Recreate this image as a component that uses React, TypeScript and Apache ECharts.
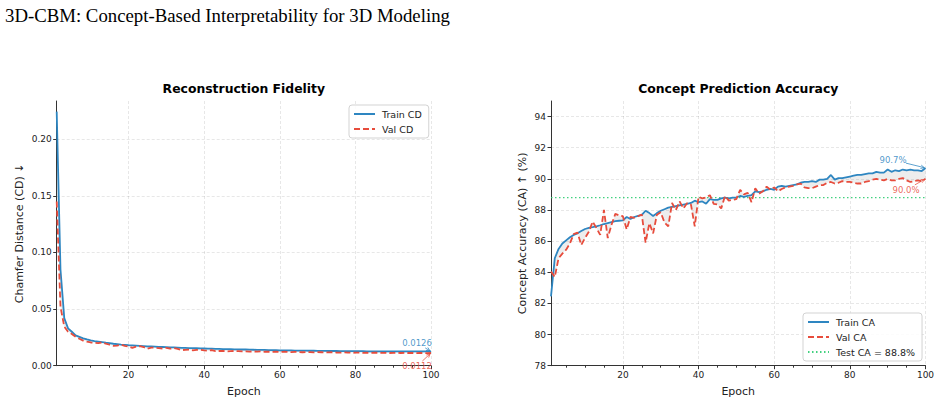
import React, { useEffect, useRef } from "react";
import * as echarts from "echarts";

// Epoch index (1..100) shared by both panels
const EPOCHS: number[] = Array.from({ length: 100 }, (_, i) => i + 1);

// Chamfer distance per epoch
const TRAIN_CD: number[] = [
  0.2244, 0.085, 0.042, 0.033, 0.03, 0.0268, 0.0255, 0.0242, 0.0232, 0.0224,
  0.0218, 0.0213, 0.0208, 0.0203, 0.0199, 0.0194, 0.019, 0.0186, 0.0184, 0.0181,
  0.0179, 0.0177, 0.0175, 0.0173, 0.0171, 0.017, 0.0168, 0.0166, 0.0165, 0.0164,
  0.0162, 0.0161, 0.016, 0.0158, 0.0157, 0.0156, 0.0155, 0.0154, 0.0153, 0.0152,
  0.0151, 0.015, 0.0149, 0.0148, 0.0147, 0.0147, 0.0146, 0.0145, 0.0144, 0.0143,
  0.0143, 0.0142, 0.0141, 0.014, 0.014, 0.0139, 0.0138, 0.0138, 0.0137, 0.0136,
  0.0136, 0.0135, 0.0135, 0.0134, 0.0134, 0.0133, 0.0133, 0.0132, 0.0132, 0.0131,
  0.0131, 0.0131, 0.013, 0.013, 0.013, 0.0129, 0.0129, 0.0129, 0.0128, 0.0128,
  0.0128, 0.0128, 0.0127, 0.0127, 0.0127, 0.0127, 0.0127, 0.0126, 0.0126, 0.0126,
  0.0126, 0.0126, 0.0126, 0.0126, 0.0126, 0.0126, 0.0126, 0.0126, 0.0126, 0.0126,
];
const VAL_CD: number[] = [
  0.145, 0.052, 0.0345, 0.03, 0.028, 0.0255, 0.0238, 0.0222, 0.0212, 0.0205,
  0.0203, 0.02, 0.0206, 0.0195, 0.0185, 0.0176, 0.0178, 0.0186, 0.0175, 0.017,
  0.0158, 0.0168, 0.0172, 0.0165, 0.015, 0.016, 0.0158, 0.0155, 0.0152, 0.0158,
  0.015, 0.0155, 0.0148, 0.0138, 0.014, 0.0142, 0.0136, 0.0139, 0.014, 0.0135,
  0.0132, 0.0138, 0.0128, 0.013, 0.0131, 0.0127, 0.0129, 0.013, 0.0128, 0.0126,
  0.0127, 0.0125, 0.0126, 0.0124, 0.0126, 0.0123, 0.0124, 0.0122, 0.0124, 0.0121,
  0.0123, 0.0122, 0.012, 0.0122, 0.0121, 0.0119, 0.0121, 0.012, 0.0118, 0.012,
  0.0119, 0.0118, 0.0117, 0.0119, 0.0116, 0.0115, 0.0117, 0.0116, 0.0114, 0.0115,
  0.0116, 0.0114, 0.0115, 0.0113, 0.0115, 0.0114, 0.0113, 0.0114, 0.0112, 0.0113,
  0.0114, 0.0112, 0.0113, 0.0112, 0.0113, 0.0111, 0.0112, 0.0112, 0.0111, 0.0112,
];

// Concept accuracy (%) per epoch
const TRAIN_CA: number[] = [
  82.45, 84.9, 85.5, 85.85, 86.05, 86.25, 86.4, 86.5, 86.65, 86.78,
  86.85, 86.9, 86.95, 87.02, 87.1, 87.16, 87.22, 87.28, 87.31, 87.33,
  87.55, 87.42, 87.55, 87.62, 87.68, 87.95, 87.8, 87.62, 87.8, 87.95,
  88.05, 88.15, 88.2, 88.25, 88.3, 88.35, 88.4, 88.45, 88.6, 88.5,
  88.55, 88.4, 88.7, 88.65, 88.65, 88.75, 88.8, 88.75, 88.8, 88.8,
  88.9, 88.85, 88.9, 88.95, 89.2, 89.15, 89.2, 89.3, 89.35, 89.3,
  89.5, 89.55, 89.5, 89.55, 89.6, 89.65, 89.75, 89.8, 89.8, 89.85,
  89.8, 89.95, 89.95, 90.0, 90.25, 89.95, 90.05, 90.05, 90.1, 90.15,
  90.2, 90.25, 90.25, 90.3, 90.35, 90.35, 90.45, 90.4, 90.4, 90.6,
  90.45, 90.55, 90.5, 90.6, 90.55, 90.6, 90.55, 90.55, 90.5, 90.7,
];
const VAL_CA: number[] = [
  84.05, 83.7, 84.9, 85.2, 85.45, 85.85, 86.45, 86.55, 85.75, 86.2,
  86.6, 87.25, 86.85, 86.4, 88.0, 86.2, 87.05, 87.75, 87.65, 87.6,
  86.75, 87.55, 87.5, 87.6, 87.7, 85.9, 87.15, 86.5, 87.7, 87.85,
  87.2, 86.95, 88.45, 88.0, 88.55, 88.1, 88.45, 88.35, 86.95, 88.85,
  88.75, 88.8, 88.95, 88.4, 88.35, 88.1, 88.9, 88.6, 88.65, 88.7,
  89.3, 89.0, 89.1, 88.5, 89.4, 89.05, 89.2, 89.5, 89.3, 89.45,
  89.2, 89.35, 89.45, 89.5, 89.55, 89.65, 89.7, 89.45, 89.4, 89.4,
  89.5, 89.6, 89.6, 89.75, 89.8, 89.7, 89.75, 89.85, 89.8, 89.8,
  89.75, 89.7, 89.7, 89.8, 89.85, 89.95, 90.0, 89.95, 89.9, 90.0,
  89.9, 89.9, 90.0, 90.05, 89.9, 89.8, 89.85, 89.9, 89.85, 90.0,
];
const TEST_CA = 88.8;

// Tick positions
const X_MAJOR: number[] = [20, 40, 60, 80, 100];
const X_MINOR: number[] = [5, 10, 15, 25, 30, 35, 45, 50, 55, 65, 70, 75, 85, 90, 95];
const CD_TICKS: number[] = [0, 0.05, 0.1, 0.15, 0.2];
const CA_TICKS: number[] = [78, 80, 82, 84, 86, 88, 90, 92, 94];

const BLUE = "#2e86c1";
const RED = "#e74c3c";
const GREEN = "#2ecc71";
const INK = "#222";
const FONT = "DejaVu Sans";

const pairs = (ys: number[]) => ys.map((y, i) => [EPOCHS[i], y]);

const GRIDS = [
  { left: 56.7, top: 101, width: 374.3, height: 264.7 },
  { left: 551, top: 101, width: 374.5, height: 264.7 },
];

const splitLine = {
  show: true,
  lineStyle: { color: "rgba(0,0,0,0.12)", width: 0.8, type: [3, 2] as any },
};

function mainX(gridIndex: number) {
  return {
    type: "value",
    gridIndex,
    min: 1,
    max: 100,
    position: "bottom",
    name: "Epoch",
    nameLocation: "middle",
    nameGap: 20,
    nameTextStyle: { fontFamily: FONT, fontSize: 11, color: INK },
    axisLine: { show: true, lineStyle: { color: "#333", width: 1 } },
    axisTick: { show: true, length: 3.5, customValues: X_MAJOR, lineStyle: { color: "#333" } },
    axisLabel: {
      customValues: X_MAJOR,
      fontFamily: FONT,
      fontSize: 9,
      color: INK,
      margin: 5,
    },
    splitLine,
  };
}

function minorX(gridIndex: number) {
  return {
    type: "value",
    gridIndex,
    min: 1,
    max: 100,
    position: "bottom",
    offset: 0,
    axisLine: { show: false },
    axisTick: { show: true, length: 2, customValues: X_MINOR, lineStyle: { color: "#333" } },
    axisLabel: { show: false },
    splitLine: { show: false },
  };
}

function yAxis(gridIndex: number, min: number, max: number, ticks: number[], name: string, gapPx: number, digits: number) {
  return {
    type: "value",
    gridIndex,
    min,
    max,
    name,
    nameLocation: "middle",
    nameGap: gapPx,
    nameTextStyle: { fontFamily: FONT, fontSize: 11, color: INK },
    axisLine: { show: true, lineStyle: { color: "#333", width: 1 } },
    axisTick: { show: true, length: 3.5, customValues: ticks, lineStyle: { color: "#333" } },
    axisLabel: {
      customValues: ticks,
      fontFamily: FONT,
      fontSize: 9,
      color: INK,
      margin: 5,
      formatter: (v: number) => v.toFixed(digits),
    },
    splitLine,
  };
}

// Shaded gap between the train and validation curves
function bandSeries(xi: number, yi: number, a: number[], b: number[]) {
  return {
    type: "custom",
    xAxisIndex: xi,
    yAxisIndex: yi,
    data: [[EPOCHS[0], a[0]]],
    silent: true,
    clip: true,
    z: 1,
    renderItem: (_params: any, api: any) => {
      const top = EPOCHS.map((x, i) => api.coord([x, a[i]]));
      const bottom = EPOCHS.map((x, i) => api.coord([x, b[i]])).reverse();
      return {
        type: "polygon",
        shape: { points: top.concat(bottom) },
        style: { fill: "rgba(128,128,128,0.14)", stroke: "none" },
      };
    },
  };
}

function lineSeries(name: string, xi: number, yi: number, ys: number[], color: string, dashed: boolean) {
  return {
    type: "line",
    name,
    xAxisIndex: xi,
    yAxisIndex: yi,
    data: pairs(ys),
    symbol: "none",
    color,
    lineStyle: { color, width: 1.8, type: dashed ? ([6, 3] as any) : "solid" },
    z: dashed ? 4 : 3,
  };
}

const legendBase = {
  orient: "vertical",
  itemWidth: 21,
  itemHeight: 10,
  itemGap: 5,
  padding: [4, 7, 4, 4],
  borderColor: "#d3d3d3",
  borderWidth: 1,
  borderRadius: 3,
  backgroundColor: "rgba(255,255,255,0.85)",
  itemStyle: { opacity: 0 },
  textStyle: { fontFamily: FONT, fontSize: 9.5, color: INK, padding: [0, 0, 0, 2] },
  selectedMode: false,
};

export default function App() {
  const ref = useRef<HTMLDivElement>(null);

  useEffect(() => {
    if (!ref.current) return;
    const chart = echarts.init(ref.current, undefined, { renderer: "svg" });

    chart.setOption({
      animation: false,
      backgroundColor: "#ffffff",
      grid: GRIDS.map((g) => ({ ...g, containLabel: false })),
      xAxis: [mainX(0), minorX(0), mainX(1), minorX(1)],
      yAxis: [
        yAxis(0, 0, 0.2338, CD_TICKS, "Chamfer Distance (CD) ↓", 32, 2),
        yAxis(1, 78, 95, CA_TICKS, "Concept Accuracy (CA) ↑ (%)", 23.5, 0),
      ],
      legend: [
        { ...legendBase, left: 349, top: 105, data: ["Train CD", "Val CD"] },
        { ...legendBase, left: 803, top: 313, data: ["Train CA", "Val CA", "Test CA = 88.8%"] },
      ],
      series: [
        bandSeries(0, 0, TRAIN_CD, VAL_CD),
        lineSeries("Train CD", 0, 0, TRAIN_CD, BLUE, false),
        lineSeries("Val CD", 0, 0, VAL_CD, RED, true),
        bandSeries(2, 1, TRAIN_CA, VAL_CA),
        {
          type: "line",
          name: "Test CA = 88.8%",
          xAxisIndex: 2,
          yAxisIndex: 1,
          data: [
            [EPOCHS[0], TEST_CA],
            [EPOCHS[EPOCHS.length - 1], TEST_CA],
          ],
          symbol: "none",
          color: GREEN,
          lineStyle: { color: GREEN, width: 1.3, type: [1.5, 2.5] as any, opacity: 0.9 },
          z: 2,
        },
        lineSeries("Train CA", 2, 1, TRAIN_CA, BLUE, false),
        lineSeries("Val CA", 2, 1, VAL_CA, RED, true),
      ],
    });

    // Final-epoch value callouts with small arrows pointing at the last point
    const annotate = (gridIndex: number, y: number, label: string, color: string, dx: number, dy: number) => {
      const last = EPOCHS[EPOCHS.length - 1];
      const [px, py] = chart.convertToPixel({ gridIndex } as any, [last, y]) as number[];
      const tx = px + dx;
      const ty = py + dy;
      const hw = label.length * 2.6;
      const hh = 5;
      const vx = px - tx;
      const vy = py - ty;
      const t = Math.min(hw / Math.max(Math.abs(vx), 1e-6), hh / Math.max(Math.abs(vy), 1e-6));
      const sx = tx + vx * t;
      const sy = ty + vy * t;
      const ang = Math.atan2(py - sy, px - sx);
      const ex = px - Math.cos(ang) * 1.2;
      const ey = py - Math.sin(ang) * 1.2;
      const hs = 4;
      return [
        {
          type: "text",
          x: tx,
          y: ty,
          z: 20,
          style: {
            text: label,
            fill: color,
            opacity: 0.85,
            fontFamily: FONT,
            fontSize: 8.5,
            textAlign: "center",
            textVerticalAlign: "middle",
          },
        },
        {
          type: "line",
          z: 20,
          shape: { x1: sx, y1: sy, x2: ex, y2: ey },
          style: { stroke: color, lineWidth: 0.9, opacity: 0.85 },
        },
        {
          type: "polyline",
          z: 20,
          shape: {
            points: [
              [ex - hs * Math.cos(ang - 0.45), ey - hs * Math.sin(ang - 0.45)],
              [ex, ey],
              [ex - hs * Math.cos(ang + 0.45), ey - hs * Math.sin(ang + 0.45)],
            ],
          },
          style: { stroke: color, fill: "none", lineWidth: 0.9, opacity: 0.85 },
        },
      ];
    };

    const n = EPOCHS.length - 1;
    chart.setOption({
      graphic: [
        {
          type: "text",
          x: 5,
          y: 15,
          style: {
            text: "3D-CBM: Concept-Based Interpretability for 3D Modeling",
            fill: "#000",
            fontFamily: "Liberation Serif",
            fontSize: 18.8,
            textVerticalAlign: "middle",
          },
        },
        {
          type: "text",
          x: GRIDS[0].left + GRIDS[0].width / 2,
          y: 88,
          style: {
            text: "Reconstruction Fidelity",
            fill: "#000",
            fontFamily: FONT,
            fontWeight: "bold",
            fontSize: 12.4,
            textAlign: "center",
            textVerticalAlign: "middle",
          },
        },
        {
          type: "text",
          x: GRIDS[1].left + GRIDS[1].width / 2,
          y: 88,
          style: {
            text: "Concept Prediction Accuracy",
            fill: "#000",
            fontFamily: FONT,
            fontWeight: "bold",
            fontSize: 12.4,
            textAlign: "center",
            textVerticalAlign: "middle",
          },
        },
        ...annotate(0, TRAIN_CD[n], TRAIN_CD[n].toFixed(4), BLUE, -14, -8.5),
        ...annotate(0, VAL_CD[n], VAL_CD[n].toFixed(4), RED, -14, 13),
        ...annotate(1, TRAIN_CA[n], TRAIN_CA[n].toFixed(1) + "%", BLUE, -32.5, -8),
        ...annotate(1, VAL_CA[n], VAL_CA[n].toFixed(1) + "%", RED, -19.5, 11),
      ],
    });

    return () => chart.dispose();
  }, []);

  return (
    <div
      ref={ref}
      style={{ position: "fixed", left: 0, top: 0, width: 940, height: 404, background: "#fff" }}
    />
  );
}
